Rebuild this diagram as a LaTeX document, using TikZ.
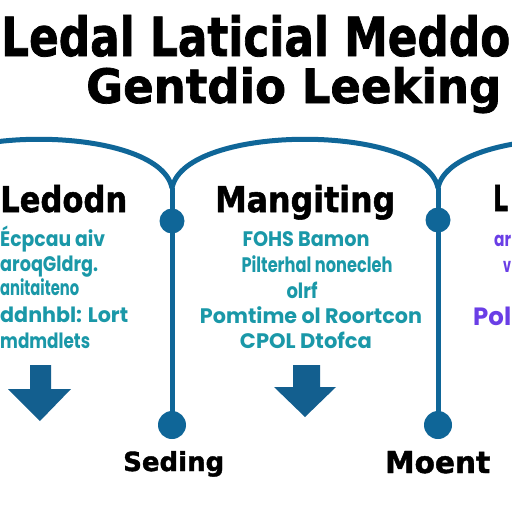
\documentclass[tikz,border=0pt]{standalone}
\usepackage{fontspec}
\usepackage{graphicx}
\setmainfont{DejaVu Sans}[BoldFeatures={FakeBold=1.5}]
\newfontfamily\tfont{Poppins}
\definecolor{lineblue}{HTML}{0F6698}
\definecolor{arrowblue}{HTML}{135F8F}
\definecolor{teal}{HTML}{1A98A8}
\definecolor{violet}{HTML}{6A3EE6}
\newcommand\fitx[2]{\resizebox{#1}{\height}{#2}}
\newcommand\fitwh[3]{\resizebox{#1}{#2}{#3}}
\begin{document}
\begin{tikzpicture}[x=1pt,y=-1pt,
  title/.style={anchor=base west,inner sep=0pt,font=\bfseries},
  head/.style={anchor=base west,inner sep=0pt,font=\bfseries},
  tline/.style={inner sep=0pt,text=teal,font=\tfont\bfseries\fontsize{21}{21}\selectfont},
  pline/.style={inner sep=0pt,text=violet,font=\tfont\bfseries\fontsize{20}{20}\selectfont},
  arc/.style={draw=lineblue,line width=5pt},
  dot/.style={circle,fill=lineblue,inner sep=0pt},
  downarrow/.style={fill=arrowblue}]
\useasboundingbox (0,0) rectangle (512,512);
\fill[white] (0,0) rectangle (512,512);

% title
\node[title] (t1) at (1,56) {\fitwh{509pt}{41pt}{Ledal Laticial Meddo}};
\node[title] (t2) at (86,103) {\fitwh{415pt}{36pt}{Gentdio Leeking}};

% arcs and junctions
\coordinate (j1) at (172,188);
\coordinate (j2) at (438,188);
\begin{scope}
\clip (0,0) rectangle (512,512);
\draw[arc] (-94,188) .. controls (-81,123) and (159,123) .. (j1);
\draw[arc] (j1) .. controls (185,123) and (425,123) .. (j2);
\draw[arc] (j2) .. controls (451,123) and (691,123) .. (704,188);
\end{scope}
\node[dot,minimum size=25pt] (c1t) at (172,221) {};
\node[dot,minimum size=25pt] (c2t) at (438,220) {};
\node[dot,minimum size=28pt] (c1b) at (172,425) {};
\node[dot,minimum size=28pt] (c2b) at (438,425) {};
\draw[arc] (j1) -- (c1b.center);
\draw[arc] (j2) -- (c2b.center);

% column headings
\node[head] (h1) at (0,212) {\fitwh{127pt}{27pt}{Ledodn}};
\node[head] (h2) at (215,212) {\fitwh{180pt}{27pt}{Mangiting}};
\node[head] (h3) at (493,211) {\fitwh{15pt}{26pt}{L}};

% left column text
\node[tline,anchor=base west] (l1) at (0,246) {\fitx{105pt}{Écpcau aiv}};
\node[tline,anchor=base west] (l2) at (0,271) {\fitx{98pt}{aroqGldrg.}};
\node[tline,anchor=base west] (l3) at (0,295) {\fitx{79pt}{anitaiteno}};
\node[tline,anchor=base west] (l4) at (0,322) {\fitx{128pt}{ddnhbl: Lort}};
\node[tline,anchor=base west] (l5) at (0,348) {\fitx{90pt}{mdmdlets}};

% middle column text
\node[tline,anchor=base] (m1) at (306,246) {\fitx{127pt}{FOHS Bamon}};
\node[tline,anchor=base] (m2) at (317,272) {\fitx{151pt}{Pilterhal nonecleh}};
\node[tline,anchor=base] (m3) at (302,298) {\fitx{31pt}{olrf}};
\node[tline,anchor=base] (m4) at (311,323) {\fitx{222pt}{Pomtime ol Roortcon}};
\node[tline,anchor=base] (m5) at (306,348) {\fitx{132pt}{CPOL Dtofca}};

% right column text
\node[pline,anchor=base west] (r1) at (494,246) {\fitx{17pt}{ar}};
\node[pline,anchor=base west] (r2) at (503,272) {\fitx{8pt}{v}};
\node[pline,anchor=base west,font=\tfont\bfseries\fontsize{25}{25}\selectfont] (r3) at (473,325) {\fitx{38pt}{Pol}};

% down arrows
\fill[downarrow] (30,365) -- (51,365) -- (51,389) -- (71,389) -- (40,421) -- (8,389) -- (30,389) -- cycle;
\fill[downarrow] (293,365) -- (320,365) -- (320,387) -- (336,387) -- (305,417) -- (274,387) -- (293,387) -- cycle;

% bottom labels
\node[head] (b1) at (123,471) {\fitwh{101pt}{20pt}{Seding}};
\node[head] (b2) at (385,473) {\fitwh{105pt}{22pt}{Moent}};
\end{tikzpicture}
\end{document}
